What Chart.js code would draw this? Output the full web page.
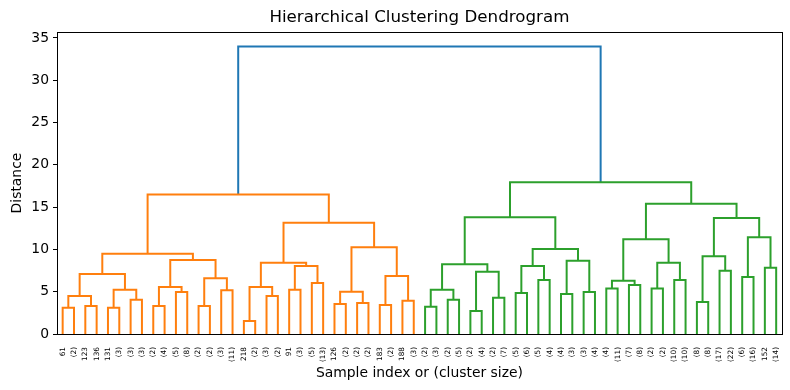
<!DOCTYPE html>
<html>
<head>
<meta charset="utf-8">
<script src="https://cdn.jsdelivr.net/npm/chart.js@4.4.0/dist/chart.umd.min.js"></script>
<style>
  body { margin: 0; background: #fff; }
  #wrap { width: 790px; height: 390px; }
</style>
</head>
<body>
<div id="wrap"><canvas id="dendro" width="790" height="390"></canvas></div>
<script>
// leaf labels, left to right (sample index or cluster size)
const leafLabels = [
  "61", "(2)", "123", "136", "131", "(3)", "(3)", "(3)", "(2)", "(4)", "(5)", "(8)", "(2)", "(2)", "(3)", "(11)",
  "218", "(2)", "(3)", "(2)", "91", "(3)", "(5)", "(13)", "126", "(2)", "(2)", "(2)", "183", "(2)", "188", "(3)",
  "(2)", "(3)", "(2)", "(5)", "(2)", "(4)", "(2)", "(7)", "(5)", "(6)", "(5)", "(4)", "(4)", "(3)", "(3)", "(4)",
  "(4)", "(11)", "(7)", "(8)", "(2)", "(2)", "(10)", "(10)", "(8)", "(8)", "(17)", "(22)", "(6)", "(16)", "152", "(14)"
];

// merges as [left node, right node, distance]
// nodes 0-63 are the leaves, each merge adds a new node numbered from 64 up
const orangeLinks = [
  [0, 1, 3.1], [2, 3, 3.3], [64, 65, 4.49], [4, 5, 3.1], [6, 7, 4.05], [67, 68, 5.23], [66, 69, 7.08],
  [8, 9, 3.3], [10, 11, 4.96], [71, 72, 5.55], [12, 13, 3.3], [14, 15, 5.16], [74, 75, 6.6], [73, 76, 8.74],
  [70, 77, 9.5],
  [16, 17, 1.53], [18, 19, 4.49], [79, 80, 5.55], [20, 21, 5.23], [22, 23, 6.02], [82, 83, 8.03], [81, 84, 8.42],
  [24, 25, 3.54], [26, 27, 3.66], [86, 87, 5.0], [28, 29, 3.42], [30, 31, 3.93], [89, 90, 6.85], [88, 91, 10.27],
  [85, 92, 13.14],
  [78, 93, 16.5]
];
const greenLinks = [
  [32, 33, 3.22], [34, 35, 4.05], [95, 96, 5.23], [36, 37, 2.72], [38, 39, 4.29], [98, 99, 7.36], [97, 100, 8.26],
  [40, 41, 4.84], [42, 43, 6.38], [102, 103, 8.03], [44, 45, 4.72], [46, 47, 4.96], [105, 106, 8.66], [104, 107, 10.04],
  [101, 108, 13.8],
  [48, 49, 5.39], [50, 51, 5.78], [110, 111, 6.3], [52, 53, 5.39], [54, 55, 6.38], [113, 114, 8.42], [112, 115, 11.2],
  [56, 57, 3.78], [58, 59, 7.47], [117, 118, 9.2], [60, 61, 6.73], [62, 63, 7.83], [120, 121, 11.45], [119, 122, 13.7],
  [116, 123, 15.39],
  [109, 124, 17.95]
];
const rootLinks = [[94, 125, 34.0]];

const yTicks = [0, 5, 10, 15, 20, 25, 30, 35];

const colors = { orange: "#ff7f0e", green: "#2ca02c", blue: "#1f77b4" };

// node positions: leaves sit at 5, 15, 25, ... like scipy does it
const nodeX = leafLabels.map((_, i) => i * 10 + 5);
const nodeY = leafLabels.map(() => 0);

const datasets = [];
const groups = [[orangeLinks, colors.orange], [greenLinks, colors.green], [rootLinks, colors.blue]];
groups.forEach(([links, color]) => {
  links.forEach(([a, b, h]) => {
    datasets.push({
      data: [
        { x: nodeX[a], y: nodeY[a] },
        { x: nodeX[a], y: h },
        { x: nodeX[b], y: h },
        { x: nodeX[b], y: nodeY[b] },
      ],
      showLine: true,
      borderColor: color,
      borderWidth: 2,
      pointRadius: 0,
      fill: false,
    });
    nodeX.push((nodeX[a] + nodeX[b]) / 2);
    nodeY.push(h);
  });
});

const yMax = 34.0 * 1.05;

// box round the plot, like matplotlib spines
const frame = {
  id: "frame",
  afterDatasetsDraw(chart) {
    const { ctx, chartArea: a } = chart;
    ctx.save();
    ctx.strokeStyle = "#000";
    ctx.lineWidth = 1;
    ctx.strokeRect(Math.round(a.left) + 0.5, Math.round(a.top) + 0.5,
      Math.round(a.right - a.left), Math.round(a.bottom - a.top));
    ctx.restore();
  },
};

Chart.defaults.font.family = "'DejaVu Sans', sans-serif";
Chart.defaults.color = "#000";

new Chart(document.getElementById("dendro").getContext("2d"), {
  type: "scatter",
  data: { datasets },
  options: {
    responsive: false,
    animation: false,
    layout: { padding: { left: 0, right: 8, top: 0, bottom: 0 } },
    plugins: {
      legend: { display: false },
      tooltip: { enabled: false },
      title: {
        display: true,
        fullSize: false,
        text: "Hierarchical Clustering Dendrogram",
        color: "#000",
        font: { size: 16.7, weight: "normal" },
        padding: { top: 8, bottom: 4 },
      },
    },
    scales: {
      x: {
        type: "linear",
        min: 0,
        max: leafLabels.length * 10,
        afterBuildTicks: (scale) => {
          scale.ticks = leafLabels.map((_, i) => ({ value: i * 10 + 5 }));
        },
        afterFit: (scale) => { scale.height = 56; },
        ticks: {
          autoSkip: false,
          minRotation: 90,
          maxRotation: 90,
          padding: 5,
          color: "#000",
          font: { size: 7.3 },
          callback: (v) => leafLabels[Math.round((v - 5) / 10)],
        },
        grid: { display: false },
        border: { display: true, color: "#000", width: 1 },
        title: {
          display: true,
          text: "Sample index or (cluster size)",
          color: "#000",
          font: { size: 13.9 },
          padding: { top: 0, bottom: 8 },
        },
      },
      y: {
        min: 0,
        max: yMax,
        afterBuildTicks: (scale) => {
          scale.ticks = yTicks.map((v) => ({ value: v }));
        },
        afterFit: (scale) => { scale.width = 57; },
        ticks: { padding: 4, color: "#000", font: { size: 13.9 } },
        grid: { drawOnChartArea: false, drawTicks: true, tickLength: 4, color: "#000" },
        border: { display: true, color: "#000", width: 1 },
        title: {
          display: true,
          text: "Distance",
          color: "#000",
          font: { size: 13.9 },
          padding: { top: 9, bottom: 0 },
        },
      },
    },
  },
  plugins: [frame],
});
</script>
</body>
</html>
